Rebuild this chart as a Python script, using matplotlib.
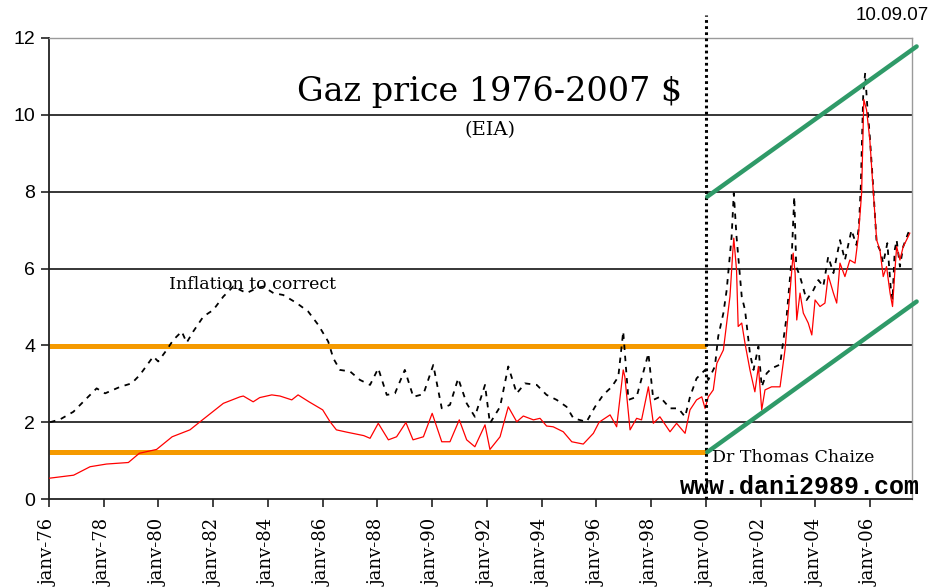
import matplotlib
matplotlib.use('Agg')
import matplotlib.pyplot as plt

# ---- data (decimal year, $) ----
red_t = [1976.0, 1976.9, 1977.5, 1978.1, 1978.9, 1979.3, 1979.93, 1980.5, 1981.15, 1981.5,
         1982.37, 1982.98, 1983.1, 1983.46, 1983.7, 1984.14, 1984.44, 1984.87, 1985.1, 1985.5,
         1986.0, 1986.27, 1986.5, 1986.88, 1987.5, 1987.73, 1988.03, 1988.4, 1988.7, 1989.04,
         1989.3, 1989.68, 1990.0, 1990.35, 1990.65, 1990.99, 1991.26, 1991.56, 1991.93, 1992.11,
         1992.48, 1992.78, 1993.09, 1993.33, 1993.7, 1993.94, 1994.18, 1994.42, 1994.79, 1995.1,
         1995.52, 1995.89, 1996.1, 1996.5, 1996.74, 1996.98, 1997.04, 1997.23, 1997.47, 1997.65,
         1997.9, 1998.08, 1998.32, 1998.69, 1998.93, 1999.24, 1999.42, 1999.66, 1999.85, 1999.97,
         2000.09, 2000.27, 2000.4, 2000.64, 2000.76, 2000.88, 2000.98, 2001.02, 2001.12, 2001.18,
         2001.31, 2001.43, 2001.61, 2001.79, 2001.92, 2002.04, 2002.16, 2002.4, 2002.71, 2002.89,
         2003.07, 2003.19, 2003.26, 2003.32, 2003.44, 2003.56, 2003.74, 2003.87, 2003.99, 2004.17,
         2004.35, 2004.47, 2004.66, 2004.78, 2004.9, 2005.08, 2005.26, 2005.45, 2005.57, 2005.69,
         2005.77, 2005.87, 2005.99, 2006.12, 2006.24, 2006.36, 2006.48, 2006.6, 2006.73, 2006.82,
         2006.9, 2006.97, 2007.09, 2007.21, 2007.33, 2007.45]
red_v = [0.54, 0.62, 0.84, 0.91, 0.95, 1.19, 1.29, 1.62, 1.80, 2.00,
         2.49, 2.66, 2.68, 2.53, 2.64, 2.71, 2.68, 2.58, 2.71, 2.53,
         2.32, 2.01, 1.80, 1.74, 1.65, 1.58, 1.97, 1.54, 1.62, 1.99,
         1.54, 1.62, 2.23, 1.49, 1.49, 2.06, 1.54, 1.36, 1.93, 1.29,
         1.62, 2.40, 2.01, 2.16, 2.06, 2.10, 1.90, 1.88, 1.75, 1.49,
         1.43, 1.71, 2.00, 2.19, 1.88, 3.36, 3.18, 1.80, 2.10, 2.06,
         2.92, 1.97, 2.14, 1.75, 1.97, 1.71, 2.32, 2.58, 2.66, 2.36,
         2.66, 2.84, 3.53, 3.88, 4.58, 5.27, 6.40, 6.79, 5.96, 4.49,
         4.58, 4.05, 3.36, 2.79, 3.45, 2.32, 2.84, 2.92, 2.92, 3.88,
         5.36, 6.40, 5.88, 4.66, 5.36, 4.84, 4.58, 4.27, 5.18, 5.01,
         5.10, 5.82, 5.36, 5.10, 6.14, 5.79, 6.22, 6.14, 6.83, 7.96,
         10.40, 10.13, 9.35, 7.96, 6.74, 6.48, 5.79, 6.05, 5.36, 5.01,
         5.88, 6.57, 6.22, 6.57, 6.74, 6.92]

real_t = [1976.04, 1976.4, 1976.89, 1977.25, 1977.74, 1978.05, 1978.6, 1979.02, 1979.32, 1979.81,
          1979.99, 1980.3, 1980.54, 1980.85, 1981.03, 1981.27, 1981.64, 1982.0, 1982.37, 1982.73,
          1983.22, 1983.59, 1983.83, 1984.2, 1984.56, 1985.05, 1985.47, 1985.84, 1986.2, 1986.39,
          1986.63, 1987.0, 1987.36, 1987.73, 1988.03, 1988.34, 1988.64, 1989.0, 1989.31, 1989.68,
          1990.04, 1990.35, 1990.65, 1990.95, 1991.26, 1991.56, 1991.93, 1992.11, 1992.48, 1992.78,
          1993.09, 1993.39, 1993.82, 1994.18, 1994.55, 1994.91, 1995.16, 1995.64, 1995.95, 1996.25,
          1996.56, 1996.8, 1996.98, 1997.17, 1997.47, 1997.9, 1998.08, 1998.32, 1998.69, 1998.99,
          1999.24, 1999.42, 1999.66, 1999.97, 2000.09, 2000.33, 2000.45, 2000.64, 2000.76, 2000.94,
          2001.02, 2001.12, 2001.31, 2001.43, 2001.61, 2001.74, 2001.92, 2002.04, 2002.22, 2002.4,
          2002.71, 2002.95, 2003.13, 2003.23, 2003.3, 2003.44, 2003.68, 2003.93, 2004.11, 2004.29,
          2004.47, 2004.66, 2004.9, 2005.08, 2005.32, 2005.5, 2005.59, 2005.66, 2005.75, 2005.82,
          2005.89, 2005.99, 2006.12, 2006.24, 2006.36, 2006.48, 2006.63, 2006.75, 2006.82, 2006.9,
          2006.97, 2007.09, 2007.21, 2007.39, 2007.45]
real_v = [2.00, 2.07, 2.27, 2.53, 2.88, 2.75, 2.92, 3.01, 3.23, 3.71,
          3.58, 3.88, 4.14, 4.36, 4.07, 4.36, 4.75, 4.92, 5.27, 5.53,
          5.36, 5.49, 5.53, 5.36, 5.31, 5.10, 4.88, 4.53, 4.10, 3.66,
          3.36, 3.32, 3.10, 2.97, 3.40, 2.71, 2.75, 3.36, 2.66, 2.73,
          3.49, 2.36, 2.45, 3.14, 2.49, 2.14, 2.97, 1.97, 2.40, 3.45,
          2.75, 3.01, 2.97, 2.71, 2.58, 2.40, 2.10, 2.01, 2.40, 2.71,
          2.92, 3.18, 4.36, 2.58, 2.66, 3.79, 2.58, 2.66, 2.36, 2.36,
          2.14, 2.66, 3.14, 3.36, 3.10, 3.45, 4.23, 4.84, 5.44, 6.83,
          7.96, 6.83, 5.27, 4.92, 3.79, 3.36, 3.97, 2.92, 3.27, 3.40,
          3.50, 4.75, 6.22, 7.87, 6.05, 5.79, 5.18, 5.44, 5.70, 5.53,
          6.31, 5.88, 6.74, 6.22, 7.00, 6.61, 7.09, 8.13, 10.56, 11.09,
          10.30, 9.43, 8.05, 6.66, 6.48, 6.14, 6.66, 5.53, 5.18, 6.48,
          6.74, 6.05, 6.57, 6.92, 7.00]

tick_years = list(range(1976, 2007, 2))
tick_labels = ['janv-%02d' % (y % 100) for y in tick_years]
y_ticks = [0, 2, 4, 6, 8, 10, 12]

orange_levels = [3.97, 1.23]          # old range, 1976 -> 2000
channel_t = [2000.05, 2007.70]
channel_up = [7.87, 11.78]
channel_low = [1.22, 5.14]

W, H = 933, 588
fig = plt.figure(figsize=(W / 100, H / 100), dpi=100)
ax = fig.add_axes([49 / W, 1 - 499 / H, (911.7 - 49) / W, (499 - 38) / H])

ax.set_xlim(1976, 2007.52)
ax.set_ylim(0, 12)

for lv in y_ticks[1:-1]:
    ax.axhline(lv, color='black', lw=1.1, zorder=1)

for lv in orange_levels:
    ax.plot([1976, 2000], [lv, lv], color='#f59a00', lw=3.6, solid_capstyle='butt', zorder=2)

ax.plot(real_t, real_v, color='black', lw=1.3, dashes=(3.0, 3.2), zorder=3)
ax.plot(red_t, red_v, color='red', lw=0.9, zorder=4)

# year 2000 split and the new channel
ax.plot([2000, 2000], [0, 12.6], color='black', lw=2.2, ls=(0, (0.9, 1.1)), clip_on=False, zorder=5)
ax.plot(channel_t, channel_up, color='#2f9a68', lw=3.2, solid_capstyle='round', clip_on=False, zorder=6)
ax.plot(channel_t, channel_low, color='#2f9a68', lw=3.2, solid_capstyle='round', clip_on=False, zorder=6)

for s in ['left', 'bottom']:
    ax.spines[s].set_color('#222222')
    ax.spines[s].set_linewidth(1.3)
for s in ['top', 'right']:
    ax.spines[s].set_color('#9a9a9a')
    ax.spines[s].set_linewidth(1.0)

ax.set_yticks(y_ticks)
ax.set_yticklabels([str(v) for v in y_ticks], family='Liberation Sans', fontsize=14)
ax.set_xticks(tick_years)
ax.set_xticklabels(tick_labels, rotation=90, family='DejaVu Serif', fontsize=13)
ax.tick_params(axis='both', direction='out', length=6, width=1.2, color='#222222')
ax.tick_params(axis='x', pad=8)
ax.tick_params(axis='y', pad=4)

def fx(px):
    return px / W

def fy(py):
    return 1 - py / H

fig.text(fx(490), fy(92), 'Gaz price 1976-2007 $', family='DejaVu Serif', fontsize=24,
         ha='center', va='center')
fig.text(fx(490), fy(130), '(EIA)', family='DejaVu Serif', fontsize=14, ha='center', va='center')
fig.text(fx(169), fy(285), 'Inflation to correct', family='DejaVu Serif', fontsize=12.5,
         ha='left', va='center')
fig.text(fx(712), fy(457), 'Dr Thomas Chaize', family='DejaVu Serif', fontsize=12.5,
         ha='left', va='center')
fig.text(fx(680), fy(487), 'www.dani2989.com', family='Liberation Mono', fontweight='bold',
         fontsize=18, ha='left', va='center')
fig.text(fx(856), fy(15), '10.09.07', family='Liberation Sans', fontsize=13.5,
         ha='left', va='center')

fig.savefig('out.png', dpi=100)
